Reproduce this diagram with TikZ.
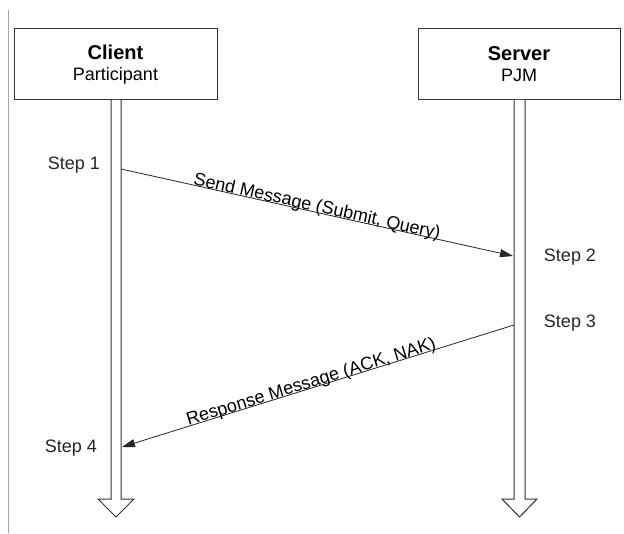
\documentclass[tikz,border=0pt]{standalone}
\usepackage{fontspec}
\setmainfont{Liberation Sans}
\usetikzlibrary{arrows.meta}
\begin{document}
\begin{tikzpicture}[x=1pt,y=-1pt,
  actor/.style={draw=black!80,line width=1pt,rectangle,minimum height=71pt,inner sep=0pt,align=center,font=\fontsize{18}{22}\selectfont},
  life/.style={draw=black!80,line width=1pt,fill=white,line join=miter},
  steplbl/.style={font=\fontsize{18}{22}\selectfont,text=black!85,inner sep=0pt},
  msg/.style={draw=black!85,line width=0.8pt,-{Triangle[length=13pt,width=8pt]}},
  msglbl/.style={font=\fontsize{18}{22}\selectfont,sloped,anchor=base,inner sep=0pt,yshift=0.5pt}]
\useasboundingbox (0,0) rectangle (624,534);
\fill[white] (0,0) rectangle (624,534);
\draw[black!35,line width=1pt] (8,10) -- (8,533);
% participants
\node[actor,minimum width=203pt] (client) at (115.5,64.5)
  {{\fontsize{20}{24}\selectfont\bfseries Client}\\[-1pt]Participant};
\node[actor,minimum width=202pt] (server) at (519,64.5)
  {{\fontsize{20}{24}\selectfont\bfseries Server}\\[-1pt]PJM};
% lifelines
\draw[life] (111,100) -- (111,499) -- (98,499) -- (116,517) -- (134,499) -- (121,499) -- (121,100);
\draw[life] (514,100) -- (514,499) -- (502,499) -- (519.5,517) -- (537,499) -- (525,499) -- (525,100);
% anchor points on lifelines
\coordinate (s1) at (121,169);
\coordinate (s2) at (513,256);
\coordinate (s3) at (514,325);
\coordinate (s4) at (122,447);
% step labels
\node[steplbl] (st1) at (74,165) {Step 1};
\node[steplbl] (st2) at (570,257) {Step 2};
\node[steplbl] (st3) at (570,323) {Step 3};
\node[steplbl] (st4) at (71,448) {Step 4};
% messages
\draw[msg] (s1) -- node[msglbl,pos=0.497] {Send Message (Submit, Query)} (s2);
\draw[msg] (s3) -- node[msglbl,pos=0.513] {Response Message (ACK, NAK)} (s4);
\end{tikzpicture}
\end{document}
